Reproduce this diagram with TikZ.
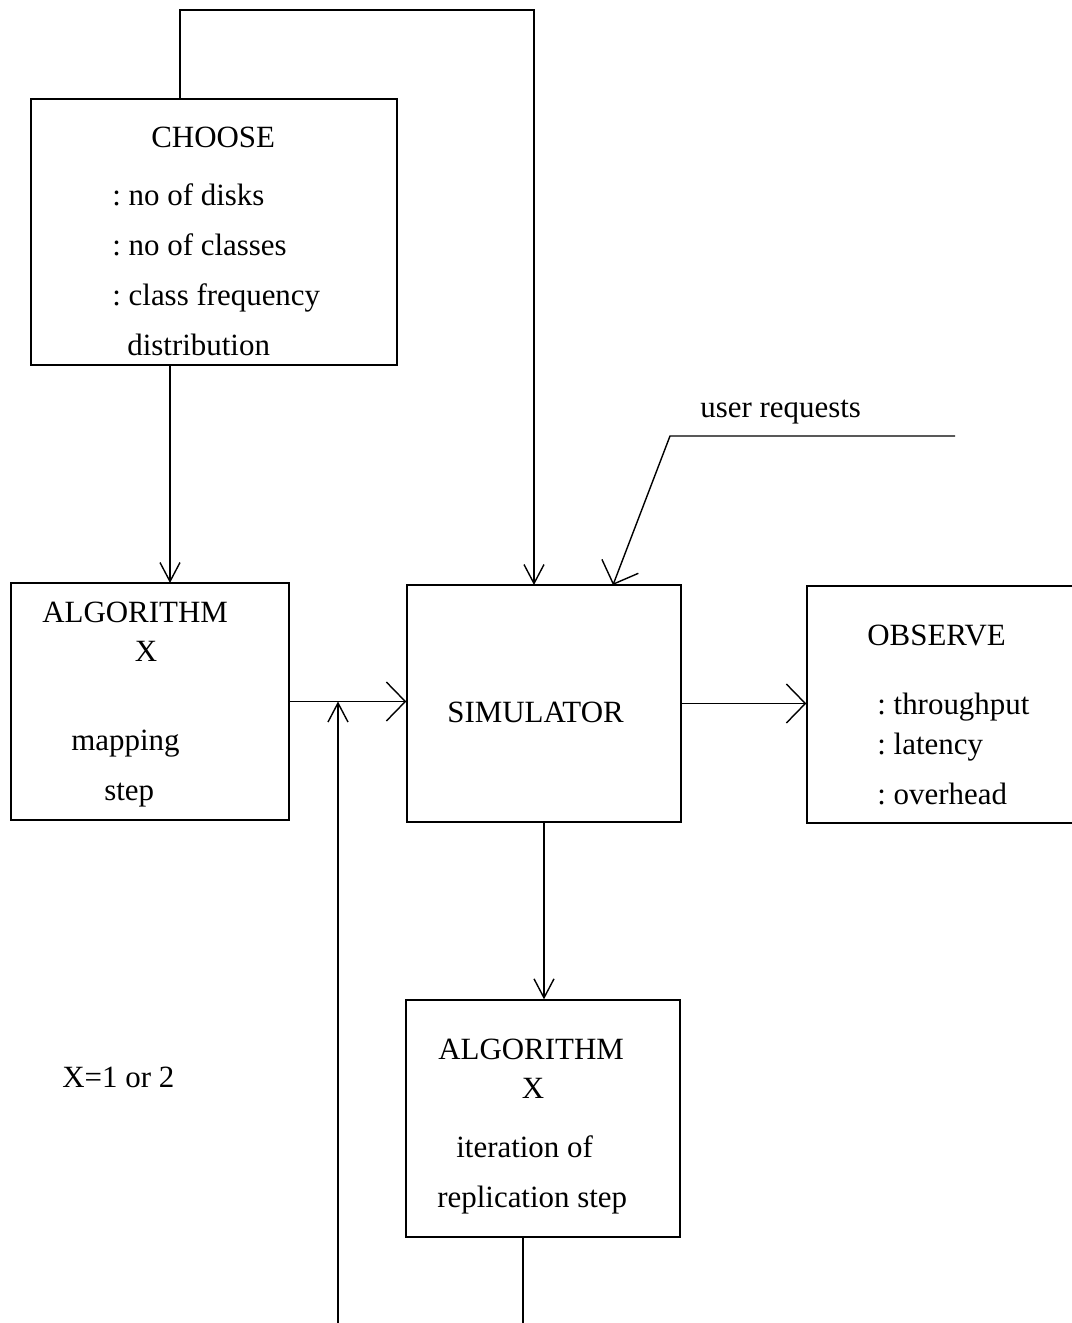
\documentclass[tikz,border=0pt]{standalone}
\usepackage{fontspec}
\setmainfont{Liberation Serif}
\usetikzlibrary{arrows.meta}
\frenchspacing

\tikzset{
  box/.style={draw, line width=0.8pt, inner sep=0pt},
  lbl/.style={anchor=base west, inner sep=0pt, font=\fontsize{17.6}{20}\selectfont},
  ctr/.style={anchor=base, inner sep=0pt, font=\fontsize{17.6}{20}\selectfont},
  wire/.style={line width=0.8pt},
  arrv/.style={wire, -{Straight Barb[length=0.38cm,width=0.4cm]}},
  arrh/.style={wire, -{Straight Barb[length=0.38cm,width=0.78cm]}}
}

\begin{document}
\begin{tikzpicture}[x=0.02cm,y=-0.02cm]
        \clip (0,0) rectangle (1072,1323);

        % boxes
        \node [box, minimum width=7.32cm, minimum height=5.32cm] (choose) at (214,232) {};
        \node [box, minimum width=5.56cm, minimum height=4.74cm] (alg1) at (150,701.5) {};
        \node [box, minimum width=5.48cm, minimum height=4.74cm] (sim) at (544,703.5) {};
        \node [box, minimum width=6.92cm, minimum height=4.74cm] (obs) at (980,704.5) {};
        \node [box, minimum width=5.48cm, minimum height=4.74cm] (alg2) at (543,1118.5) {};

        % texts
        \node [lbl] (choosehd) at (151,147) {CHOOSE};
        \node [lbl] (disks) at (112,205) {: no of disks};
        \node [lbl] (classes) at (112,255) {: no of classes};
        \node [lbl] (freq) at (112,305) {: class frequency};
        \node [lbl] (distr) at (127,355) {distribution};

        \node [lbl] (alghd) at (42,622) {ALGORITHM};
        \node [ctr] (algx) at (146,661) {X};
        \node [lbl] (mapping) at (71,750) {mapping};
        \node [lbl] (mapstep) at (104,800) {step};

        \node [lbl] (simhd) at (447,722) {SIMULATOR};

        \node [lbl] (obshd) at (867,645) {OBSERVE};
        \node [lbl] (thru) at (877,714) {: throughput};
        \node [lbl] (lat) at (877,754) {: latency};
        \node [lbl] (over) at (877,804) {: overhead};

        \node [lbl] (alghdb) at (438,1059) {ALGORITHM};
        \node [ctr] (algxb) at (533,1098) {X};
        \node [lbl] (iter) at (456,1157) {iteration of};
        \node [lbl] (repl) at (437,1207) {replication step};

        \node [lbl] (users) at (700,417) {user requests};
        \node [lbl] (xnote) at (62,1087) {X=1 or 2};

        % connectors
        \coordinate (loop) at (180,10);
        \coordinate (simin) at (534,585);
        \coordinate (algin) at (170,583);
        \coordinate (bend) at (670,436);
        \coordinate (req) at (955,436);
        \coordinate (reqin) at (613,585);
        \coordinate (fb) at (338,1323);
        \coordinate (out) at (523,1323);

        \draw [arrv] (choose.north -| loop) -- (loop) -| (simin);
        \draw [arrv] (choose.south -| algin) -- (algin);
        \draw [arrh] (alg1.east) -- (alg1.east -| sim.west);
        \draw [arrh] (sim.east) -- (sim.east -| obs.west);
        \draw [arrv] (sim.south) -- (sim.south |- alg2.north);
        \draw [arrh] (req) -- (bend) -- (reqin);
        \draw [arrv] (fb) -- (fb |- alg1.east);
        \draw [wire] (alg2.south -| out) -- (out);
\end{tikzpicture}
\end{document}
